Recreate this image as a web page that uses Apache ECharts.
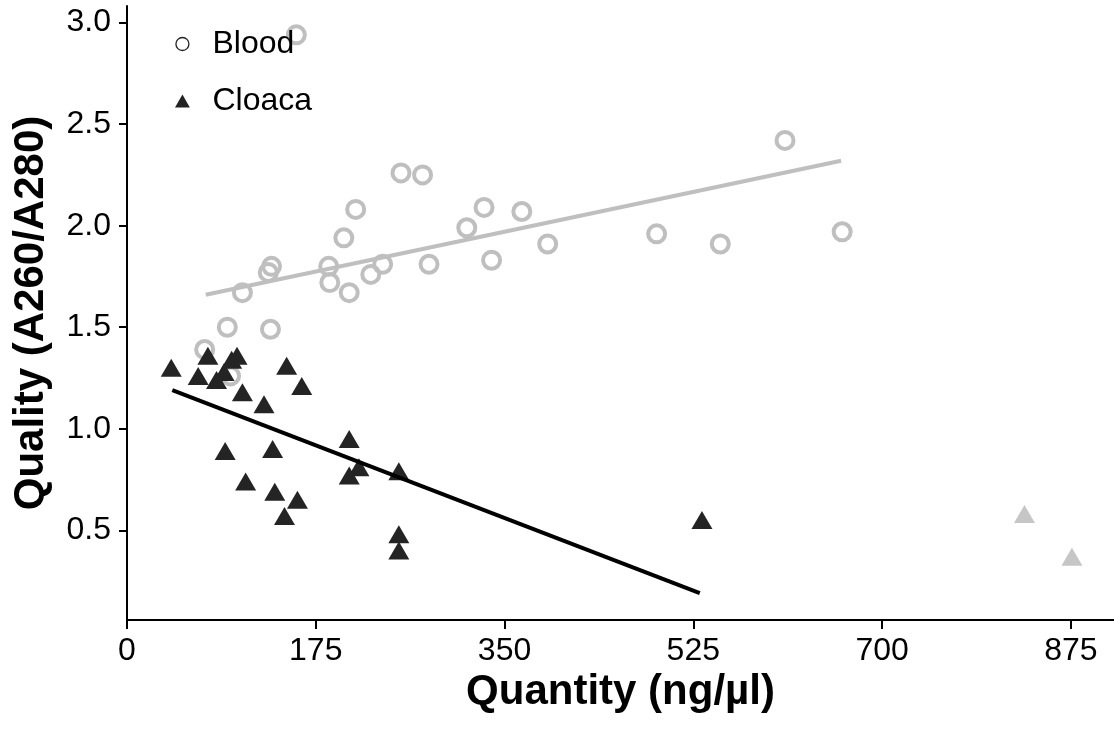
<!DOCTYPE html>
<html>
<head>
<meta charset="utf-8">
<title>Quality vs Quantity</title>
<script src="https://cdn.jsdelivr.net/npm/echarts@6/dist/echarts.min.js"></script>
<style>
  html, body { margin: 0; padding: 0; background: #fff; }
  #chart { width: 1114px; height: 731px; }
</style>
</head>
<body>
<div id="chart"></div>
<script>
// values
const bloodQuantity = [157, 72, 93, 107, 134, 131, 133, 187, 188, 201, 206, 212, 226, 237, 254, 274, 280, 315, 331, 338, 366, 390, 491, 550, 610, 663, 96];
const bloodQuality = [2.94, 1.39, 1.50, 1.67, 1.80, 1.77, 1.49, 1.80, 1.72, 1.94, 1.67, 2.08, 1.76, 1.81, 2.26, 2.25, 1.81, 1.99, 2.09, 1.83, 2.07, 1.91, 1.96, 1.91, 2.42, 1.97, 1.26];

const cloacaQuantity = [41, 75, 66, 83, 90, 97, 102, 148, 162, 107, 127, 91, 135, 110, 137, 158, 146, 206, 206, 215, 252, 252, 252, 533];
const cloacaQuality = [1.30, 1.36, 1.26, 1.24, 1.28, 1.34, 1.36, 1.31, 1.21, 1.18, 1.12, 0.89, 0.90, 0.74, 0.69, 0.65, 0.57, 0.95, 0.77, 0.81, 0.79, 0.48, 0.40, 0.55];

// the two light grey triangles (not part of the cloaca fit)
const outlierQuantity = [832, 876];
const outlierQuality = [0.58, 0.37];

// fitted lines, ends as drawn in the figure
const bloodTrendX = [73, 662];
const bloodTrendY = [1.66, 2.32];
const cloacaTrendX = [42, 531];
const cloacaTrendY = [1.19, 0.19];

const xTicks = [0, 175, 350, 525, 700, 875];
const yTicks = [0.5, 1.0, 1.5, 2.0, 2.5, 3.0];

const FONT = '"Liberation Sans", Arial, Helvetica, sans-serif';

function pairs(xs, ys) {
    return xs.map((x, i) => [x, ys[i]]);
}

const chart = echarts.init(document.getElementById('chart'), null, { renderer: 'canvas' });

const axisCommon = {
    axisLine: { show: true, onZero: false, lineStyle: { color: '#000', width: 2 } },
    axisTick: { show: true, length: 8, lineStyle: { color: '#000', width: 2 } },
    splitLine: { show: false },
    nameTextStyle: { fontFamily: FONT, fontWeight: 'bold', fontSize: 42, color: '#000' }
};

const option = {
    animation: false,
    backgroundColor: '#fff',
    grid: { left: 127, right: 0, top: 6, bottom: 111 },
    legend: {
        orient: 'vertical',
        left: 175,
        top: 28,
        padding: 0,
        itemWidth: 50,
        itemHeight: 13,
        itemGap: 25,
        textStyle: { fontFamily: FONT, fontSize: 32, color: '#000' },
        data: [
            { name: 'Blood', icon: 'circle', itemStyle: { color: 'transparent', borderColor: '#222', borderWidth: 1.3, opacity: 1 } },
            { name: 'Cloaca', icon: 'path://M0,14L8,0L16,14Z', itemStyle: { color: '#222', borderWidth: 0, opacity: 1 } }
        ]
    },
    xAxis: {
        ...axisCommon,
        type: 'value',
        min: 0,
        max: 915,
        name: 'Quantity (ng/µl)',
        nameLocation: 'middle',
        nameGap: 50,
        axisTick: { ...axisCommon.axisTick, length: 9, customValues: xTicks },
        axisLabel: {
            customValues: xTicks,
            margin: 15,
            fontFamily: FONT, fontSize: 32, color: '#000'
        }
    },
    yAxis: {
        ...axisCommon,
        type: 'value',
        min: 0.058,
        max: 3.082,
        name: 'Quality (A260/A280)',
        nameLocation: 'middle',
        nameRotate: 90,
        nameGap: 75,
        axisTick: { ...axisCommon.axisTick, customValues: yTicks },
        axisLabel: {
            customValues: yTicks,
            margin: 16,
            formatter: v => v.toFixed(1),
            fontFamily: FONT, fontSize: 32, color: '#000'
        }
    },
    series: [
        {
            name: 'Blood',
            type: 'scatter',
            symbol: 'circle',
            symbolSize: 17,
            itemStyle: { color: 'transparent', borderColor: '#BFBFBF', borderWidth: 4, opacity: 1 },
            data: pairs(bloodQuantity, bloodQuality),
            z: 2
        },
        {
            name: 'Cloaca',
            type: 'scatter',
            symbol: 'triangle',
            symbolSize: [21, 18],
            itemStyle: { color: '#242424', opacity: 1 },
            data: pairs(cloacaQuantity, cloacaQuality),
            z: 3
        },
        {
            name: 'excluded',
            type: 'scatter',
            symbol: 'triangle',
            symbolSize: [21, 18],
            itemStyle: { color: '#C6C6C6', opacity: 1 },
            data: pairs(outlierQuantity, outlierQuality),
            z: 2
        },
        {
            name: 'Blood fit',
            type: 'line',
            showSymbol: false,
            silent: true,
            lineStyle: { color: '#BFBFBF', width: 4 },
            data: pairs(bloodTrendX, bloodTrendY),
            z: 1
        },
        {
            name: 'Cloaca fit',
            type: 'line',
            showSymbol: false,
            silent: true,
            lineStyle: { color: '#000', width: 4 },
            data: pairs(cloacaTrendX, cloacaTrendY),
            z: 4
        }
    ]
};

chart.setOption(option);
</script>
</body>
</html>
